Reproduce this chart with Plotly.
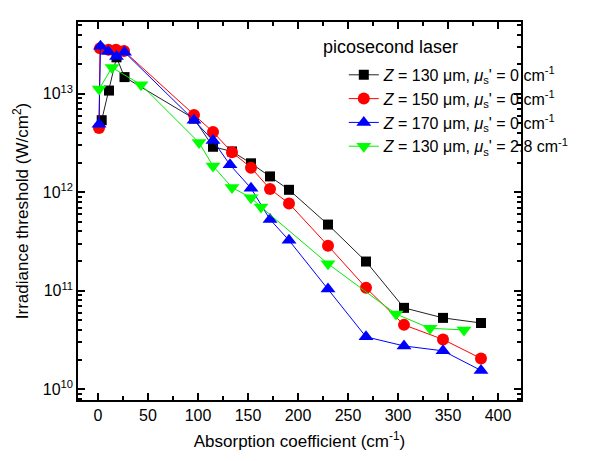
import plotly.graph_objects as go

# ---- data ----
x_black = [3.7, 11, 18.5, 26.5, 96, 115, 134, 153, 172, 191, 230, 268, 306, 345, 383]
y_black = [5.4e12, 1.08e13, 2.35e13, 1.48e13, 5.6e12, 2.9e12, 2.6e12, 1.97e12, 1.45e12,
           1.06e12, 4.7e11, 1.98e11, 6.7e10, 5.3e10, 4.7e10]

x_red = [1.0, 2.0, 10.5, 18, 26, 96, 115, 134, 153, 172, 191, 230, 268, 306, 345, 383]
y_red = [4.5e12, 2.9e13, 2.8e13, 2.8e13, 2.72e13, 6.1e12, 4.1e12, 2.55e12, 1.78e12,
         1.08e12, 7.7e11, 2.87e11, 1.07e11, 4.5e10, 3.2e10, 2.05e10]

x_blue = [1.0, 2.5, 10.3, 18.5, 26.5, 96, 115, 132, 153, 172, 191, 230, 268, 306, 345, 383]
y_blue = [4.9e12, 3.05e13, 2.7e13, 2.4e13, 2.65e13, 5.4e12, 3.35e12, 1.9e12, 1.1e12,
          5.3e11, 3.25e11, 1.04e11, 3.4e10, 2.75e10, 2.45e10, 1.55e10]

x_green = [1.1, 14, 43, 101, 115, 134, 153, 163, 230, 298, 332, 366]
y_green = [1.12e13, 1.85e13, 1.24e13, 3.2e12, 1.85e12, 1.12e12, 8.8e11, 7.1e11,
           1.88e11, 5.8e10, 4.15e10, 4.0e10]

names = [
    "<i>Z</i> = 130 μm, <i>μ</i><sub>s</sub>' = 0 cm<sup>-1</sup>",
    "<i>Z</i> = 150 μm, <i>μ</i><sub>s</sub>' = 0 cm<sup>-1</sup>",
    "<i>Z</i> = 170 μm, <i>μ</i><sub>s</sub>' = 0 cm<sup>-1</sup>",
    "<i>Z</i> = 130 μm, <i>μ</i><sub>s</sub>' = 2.8 cm<sup>-1</sup>",
]
x_ticks = [0, 50, 100, 150, 200, 250, 300, 350, 400]
y_ticks = [1e10, 1e11, 1e12, 1e13]
y_ticktext = ["10<sup>10</sup>", "10<sup>11</sup>", "10<sup>12</sup>", "10<sup>13</sup>"]

FONT = "Liberation Sans, Arial, sans-serif"

fig = go.Figure()
series = [
    (x_black, y_black, "black", "#222222", "square", 10),
    (x_red, y_red, "#ff0000", "#ff0000", "circle", 12),
    (x_blue, y_blue, "#0000ff", "#0000ff", "triangle-up", 13),
    (x_green, y_green, "#00ff00", "#00ee00", "triangle-down", 13),
]
for (xs, ys, mc, lc, sym, sz), nm in zip(series, names):
    fig.add_trace(go.Scatter(
        x=xs, y=ys, mode="lines+markers", name=nm,
        line=dict(color=lc, width=1),
        marker=dict(symbol=sym, size=sz, color=mc, line=dict(width=0)),
    ))

axis_common = dict(
    showline=True, linecolor="black", linewidth=1.5, mirror="allticks",
    ticks="inside", tickcolor="black", tickwidth=1.5, ticklen=7,
    showgrid=False, zeroline=False, automargin=False,
    tickfont=dict(family=FONT, size=16, color="black"),
)

fig.update_xaxes(
    range=[-20, 423], tickvals=x_ticks,
    minor=dict(ticks="inside", ticklen=4, dtick=25, tick0=0, tickcolor="black", tickwidth=1.5, showgrid=False),
    title=dict(text="Absorption coefficient (cm<sup>-1</sup>)", font=dict(family=FONT, size=17, color="black"), standoff=12),
    **axis_common,
)
fig.update_yaxes(
    type="log", range=[9.89, 13.73], tickvals=y_ticks, ticktext=y_ticktext,
    minor=dict(ticks="inside", ticklen=4, dtick="D1", tickcolor="black", tickwidth=1.5, showgrid=False),
    title=dict(text="Irradiance threshold (W/cm<sup>2</sup>)", font=dict(family=FONT, size=17, color="black"), standoff=10),
    **axis_common,
)

fig.add_annotation(
    text="picosecond laser", xref="paper", yref="paper", x=0.548, y=0.935,
    xanchor="left", yanchor="middle", showarrow=False,
    font=dict(family=FONT, size=18, color="black"),
)

fig.update_layout(
    width=614, height=461,
    margin=dict(l=70, r=101, t=14, b=69),
    paper_bgcolor="white", plot_bgcolor="white",
    showlegend=True,
    legend=dict(x=0.6, y=0.905, xanchor="left", yanchor="top",
                bgcolor="rgba(0,0,0,0)", font=dict(family=FONT, size=16, color="black"),
                tracegroupgap=0, itemwidth=30),
)

fig.write_html("out.html")
